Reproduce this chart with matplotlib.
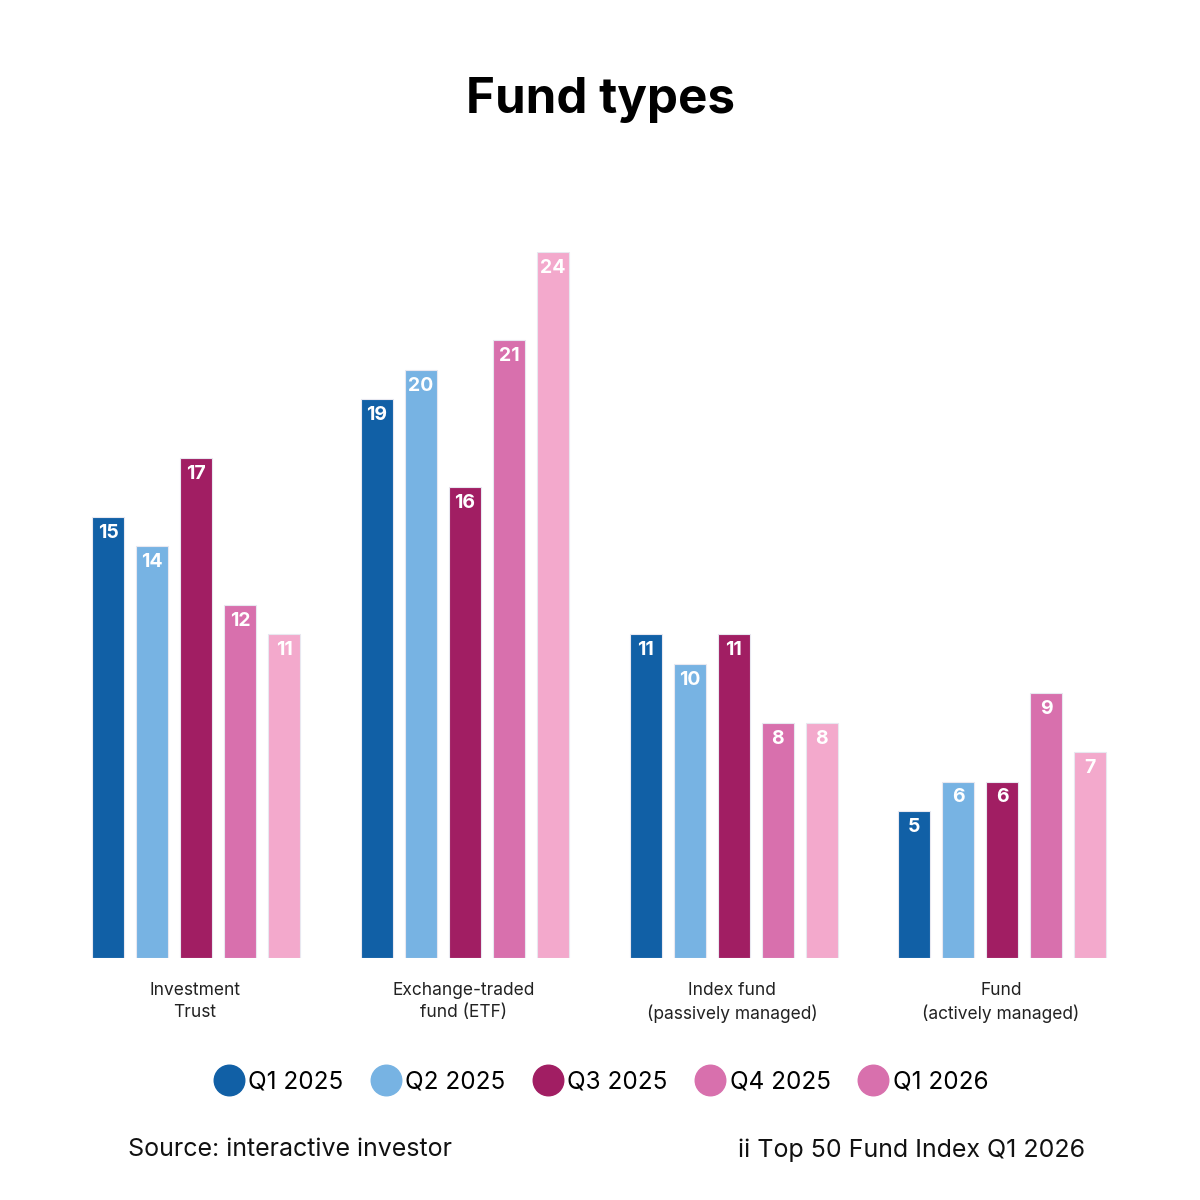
import numpy as np
import matplotlib
matplotlib.use("Agg")
import matplotlib.pyplot as plt
from matplotlib.lines import Line2D

plt.rcParams['font.family'] = ['Inter', 'DejaVu Sans']

categories = ["Investment\nTrust", "Exchange-traded\nfund (ETF)",
              "Index fund\n(passively managed)", "Fund\n(actively managed)"]
series = ["Q1 2025", "Q2 2025", "Q3 2025", "Q4 2025", "Q1 2026"]
values = [
    [15, 19, 11, 5],   # Q1 2025
    [14, 20, 10, 6],   # Q2 2025
    [17, 16, 11, 6],   # Q3 2025
    [12, 21, 8, 9],    # Q4 2025
    [11, 24, 8, 7],    # Q1 2026
]
bar_colors = ["#1160a6", "#77b3e3", "#a11e63", "#d870ad", "#f3a9cc"]
legend_colors = ["#1160a6", "#77b3e3", "#a11e63", "#d870ad", "#d870ad"]

fig = plt.figure(figsize=(12, 12), dpi=100)
ax = fig.add_axes([0.05, 1 - 958 / 1200, 0.9, 706 / 1200])

x = np.arange(len(categories))
step = 44 / 268.7
width = 32 / 268.7
for i, (name, vals) in enumerate(zip(series, values)):
    pos = x + (i - 2) * step - 0.003
    ax.bar(pos, vals, width=width, color=bar_colors[i],
           edgecolor="#e8e8f0", linewidth=0.8)
    for p, v in zip(pos, vals):
        ax.annotate(str(v), (p, v), xytext=(0, -5), textcoords="offset points",
                    ha="center", va="top", color="white", fontsize=14,
                    fontweight="bold")

ax.set_xlim(-0.51, 3.51)
ax.set_ylim(0, 24)
ax.axis("off")

for xi, cat in zip(x, categories):
    ax.text(xi - 0.008, -0.8, cat, ha="center", va="top", fontsize=12.5,
            color="#222222", linespacing=1.4)

fig.text(0.5, 1 - 100 / 1200, "Fund types", ha="center", va="center",
         fontsize=35.5, fontweight="bold", color="black")

handles = [Line2D([0], [0], marker="o", linestyle="none", markersize=22,
                  markerfacecolor=c, markeredgecolor=c) for c in legend_colors]
fig.legend(handles, series, loc="center", bbox_to_anchor=(0.499, 1 - 1082 / 1200),
           ncol=5, frameon=False, fontsize=17.5, handletextpad=0.0,
           columnspacing=0.95, handlelength=1.6)

fig.text(128 / 1200, 1 - 1150 / 1200, "Source: interactive investor",
         ha="left", va="center", fontsize=18, color="#111111")
fig.text(1085 / 1200, 1 - 1150 / 1200, "ii Top 50 Fund Index Q1 2026",
         ha="right", va="center", fontsize=18, color="#111111")

fig.savefig("out.png", dpi=100, facecolor="white")
